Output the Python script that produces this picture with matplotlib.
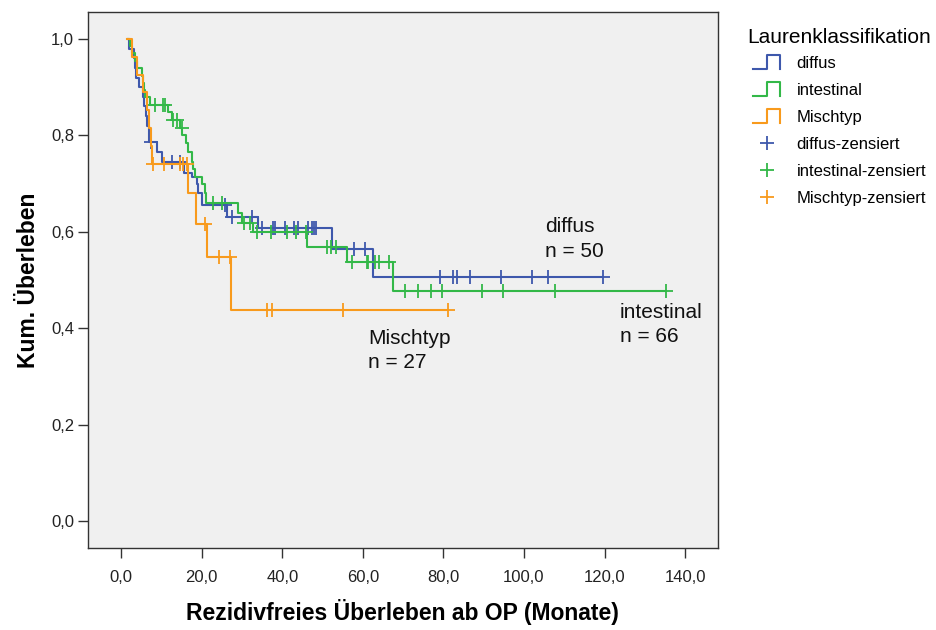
import numpy as np
import matplotlib
matplotlib.use("Agg")
import matplotlib.pyplot as plt
from matplotlib.lines import Line2D
from matplotlib.legend_handler import HandlerBase
from matplotlib.ticker import FuncFormatter

plt.rcParams['font.family'] = ['Liberation Sans', 'DejaVu Sans']

# Kaplan-Meier steps: time of each step (months) and survival after it
diffus_t = [1.8, 2.0, 3.2, 3.5, 3.8, 4.5, 5.4, 5.8, 6.2, 6.5, 6.8, 7.0, 9.0, 10.1,
            15.5, 17.5, 18.8, 19.2, 20.2, 26.2, 34.1, 52.3, 62.6]
diffus_s = [1.0, 0.98, 0.96, 0.94, 0.92, 0.90, 0.88, 0.86, 0.84, 0.82, 0.80, 0.786, 0.765, 0.745,
            0.723, 0.714, 0.70, 0.68, 0.656, 0.631, 0.607, 0.564, 0.506]
diffus_cens = [7.3, 12.6, 14.6, 25.8, 27.5, 32.4, 34.9, 37.7, 38.3, 40.6, 42.8, 43.8, 46.3,
               47.5, 48.0, 48.4, 57.9, 60.6, 79.2, 82.3, 83.3, 86.6, 94.2, 101.9, 106.0, 119.7]

intest_t = [1.8, 2.2, 2.6, 3.5, 3.9, 5.1, 5.5, 5.8, 6.0, 7.2, 11.7, 12.6, 14.6, 15.1, 16.1,
            16.6, 17.5, 17.9, 18.4, 20.0, 20.8, 21.1, 29.1, 29.9, 32.8, 46.2, 56.0, 67.4]
intest_s = [1.0, 0.985, 0.970, 0.955, 0.939, 0.924, 0.909, 0.894, 0.879, 0.864, 0.849, 0.832,
            0.816, 0.80, 0.784, 0.766, 0.745, 0.73, 0.714, 0.70, 0.68, 0.66, 0.64, 0.619,
            0.599, 0.569, 0.538, 0.478]
intest_cens = [8.4, 10.5, 10.9, 13.0, 13.8, 15.0, 22.9, 25.0, 30.5, 32.0, 33.8, 37.1, 41.2,
               43.4, 45.8, 51.0, 52.0, 53.3, 57.3, 61.0, 61.4, 62.9, 64.1, 66.5, 70.5, 73.6,
               76.8, 79.6, 89.7, 94.9, 107.7, 135.2]

misch_t = [1.4, 2.6, 3.9, 5.5, 6.5, 7.0, 7.4, 7.6, 16.7, 18.6, 21.3, 27.4]
misch_s = [1.0, 0.963, 0.926, 0.889, 0.852, 0.815, 0.778, 0.741, 0.68, 0.616, 0.548, 0.438]
misch_cens = [8.0, 10.7, 14.6, 15.4, 16.3, 20.7, 24.2, 27.0, 36.2, 37.5, 55.2, 81.1]

groups = ["diffus", "intestinal", "Mischtyp"]
group_n = [50, 66, 27]
colors = ["#3E58AC", "#33B848", "#F89A1C"]
curves = [(diffus_t, diffus_s, diffus_cens),
          (intest_t, intest_s, intest_cens),
          (misch_t, misch_s, misch_cens)]
# where each "name / n = .." note sits (time, survival at top of text)
note_pos = [(105.2, 0.630), (123.8, 0.452), (61.3, 0.398)]


class StepHandler(HandlerBase):
    # legend key shaped like a survival step
    def create_artists(self, legend, orig_handle, xdescent, ydescent,
                       width, height, fontsize, trans):
        x0 = -xdescent
        y0 = -ydescent - 0.1 * height
        y1 = -ydescent + 1.1 * height
        xs = [x0, x0 + 0.5 * width, x0 + 0.5 * width, x0 + width, x0 + width]
        ys = [y0, y0, y1, y1, y0 + 0.05 * height]
        line = Line2D(xs, ys, color=orig_handle.get_color(), lw=1.5)
        line.set_transform(trans)
        return [line]


fig = plt.figure(figsize=(9.37, 6.30), dpi=100)
ax = fig.add_axes([0.094, 0.130, 0.672, 0.851])
ax.set_facecolor("#F0F0F0")

line_handles = []
cens_handles = []
for name, col, (t, s, cens) in zip(groups, colors, curves):
    t = np.asarray(t)
    s = np.asarray(s)
    cens = np.asarray(cens)
    t_end = max(t[-1], cens.max())
    xs = np.append(t, t_end)
    ys = np.append(s, s[-1])
    ln, = ax.step(xs, ys, where="post", color=col, lw=1.5, label=name)
    idx = np.searchsorted(t, cens, side="right") - 1
    cm, = ax.plot(cens, s[idx], ls="none", marker="+", ms=10, mew=1.3,
                  color=col, label=name + "-zensiert")
    line_handles.append(ln)
    cens_handles.append(cm)

# group annotations
for name, n, (px, py) in zip(groups, group_n, note_pos):
    ax.text(px, py, f"{name}\nn = {n}", fontsize=15, va="top", ha="left",
            linespacing=1.35, color="#111111")

ax.set_xlim(-8.2, 148.1)
ax.set_ylim(-0.056, 1.056)
ax.set_xticks(np.arange(0, 141, 20))
ax.set_yticks(np.arange(0, 1.01, 0.2))
comma = FuncFormatter(lambda v, p: f"{v:.1f}".replace(".", ","))
ax.xaxis.set_major_formatter(comma)
ax.yaxis.set_major_formatter(comma)
ax.tick_params(direction="out", length=7, width=1, colors="#333333",
               labelcolor="#222222", labelsize=12, pad=9)
ax.tick_params(axis="y", pad=3)
for sp in ax.spines.values():
    sp.set_color("#333333")
    sp.set_linewidth(1)

ax.set_xlabel("Rezidivfreies Überleben ab OP (Monate)", fontsize=16.5,
              fontweight="bold", labelpad=10)
ax.set_ylabel("Kum. Überleben", fontsize=16.5, fontweight="bold", labelpad=8)

# legend title drawn on its own so the rows can sit close beneath it
fig.text(0.798, 0.941, "Laurenklassifikation", fontsize=15, va="center", ha="left")
leg = fig.legend(line_handles + cens_handles,
                 [h.get_label() for h in line_handles + cens_handles],
                 handler_map={h: StepHandler() for h in line_handles},
                 loc="upper left", bbox_to_anchor=(0.788, 0.935), frameon=False,
                 fontsize=12, handlelength=1.6, handletextpad=1.0,
                 labelspacing=0.72)

fig.savefig("out.png", dpi=100)
